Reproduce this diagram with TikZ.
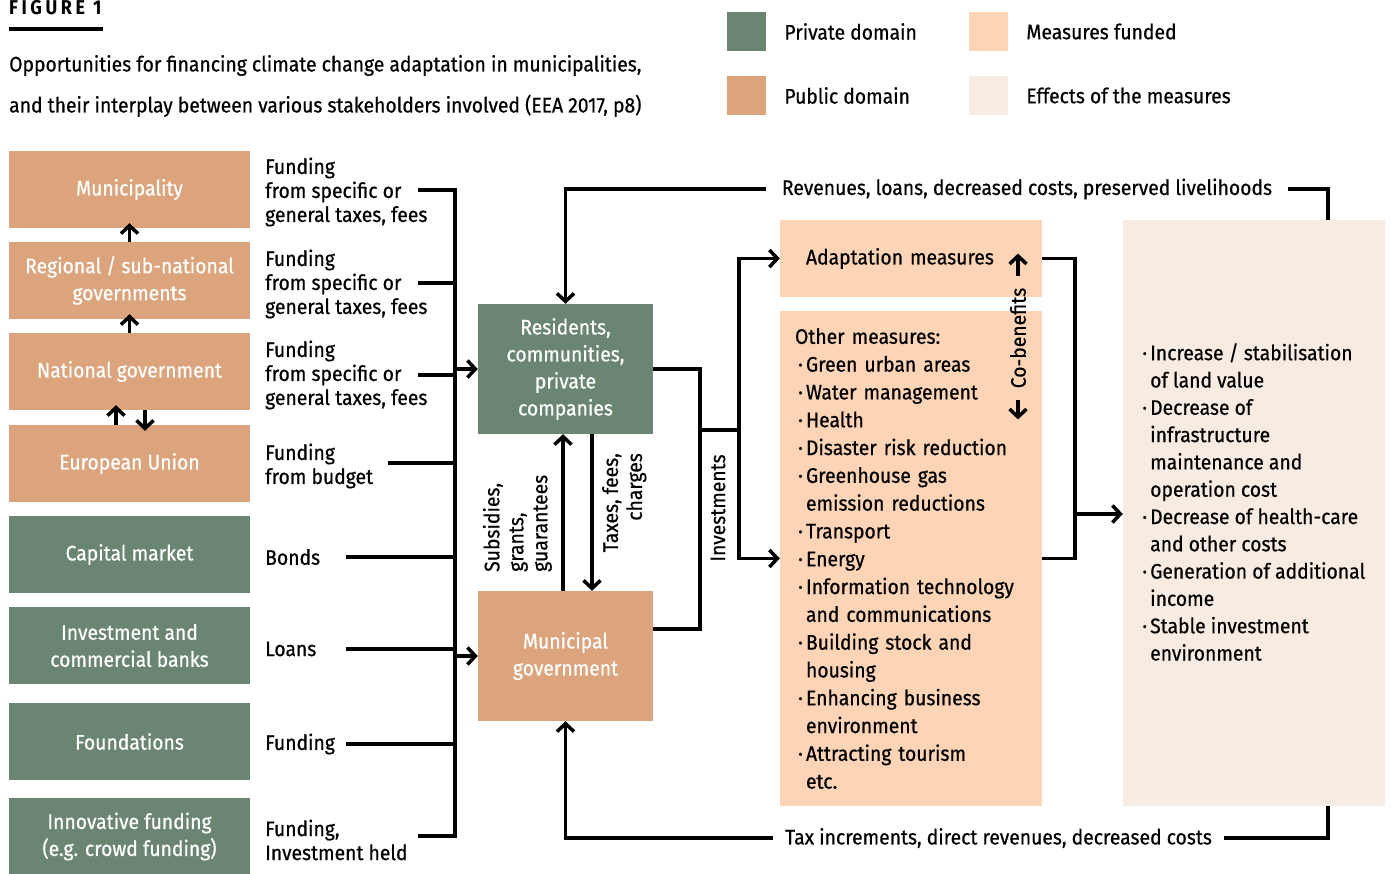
\documentclass[tikz,border=0pt]{standalone}
\usepackage{fontspec}
\setmainfont{Fira Sans}[FakeStretch=0.92,FakeBold=0.6]
\newfontfamily\headfont{Fira Sans}[FakeStretch=0.9,LetterSpace=18]
\usetikzlibrary{arrows.meta,positioning}
\definecolor{privgreen}{RGB}{107,133,115}
\definecolor{pubbrown}{RGB}{220,164,124}
\definecolor{measpeach}{RGB}{253,212,182}
\definecolor{effcream}{RGB}{248,236,226}
\newcommand{\bul}{\makebox[11pt][c]{·}}
\newcommand{\cont}{\hspace*{11pt}}
\begin{document}
\begin{tikzpicture}[x=1pt,y=-1pt,
		font=\fontsize{21}{24}\selectfont,
		box/.style={minimum width=241pt,minimum height=77pt,inner sep=0pt,align=center,text=white,font=\fontsize{21}{27}\selectfont},
		private/.style={box,fill=privgreen},
		public/.style={box,fill=pubbrown},
		hub/.style={box,minimum width=175pt,minimum height=130pt},
		measure/.style={minimum width=262pt,inner sep=0pt,fill=measpeach,align=left},
		key/.style={minimum width=39pt,minimum height=39pt,inner sep=0pt},
		lbl/.style={anchor=west,align=left,inner sep=0pt},
		link/.style={line width=3.5pt},
		arr/.style={link,-{Straight Barb[length=8pt,width=17pt]}},
	]
	\useasboundingbox (0,0) rectangle (1391,874);
	\node (fig) at (9,15) [anchor=base west,inner sep=0pt,font=\headfont\fontsize{20}{20}\bfseries\selectfont] {FIGURE 1};
	\fill (9,27.5) rectangle (103,31.5);
	\node (caption) at (9,86) [lbl,font=\fontsize{21}{41}\selectfont] {Opportunities for financing climate change adaptation in municipalities,\\and their interplay between various stakeholders involved (EEA 2017, p8)};
	
	\node (kpriv) at (746.5,31.5) [key,fill=privgreen] {};
	\node (kpub) at (746.5,95.5) [key,fill=pubbrown] {};
	\node (kmeas) at (988.5,31.5) [key,fill=measpeach] {};
	\node (keff) at (988.5,95.5) [key,fill=effcream] {};
	\node (tpriv) [lbl,right=18pt of kpriv] {Private domain};
	\node (tpub) [lbl,right=18pt of kpub] {Public domain};
	\node (tmeas) [lbl,right=18pt of kmeas] {Measures funded};
	\node (teff) [lbl,right=18pt of keff] {Effects of the measures};
	
	\node (muni) at (129.5,189.5) [public] {Municipality};
	\node (reg) at (129.5,280.5) [public] {Regional / sub-national\\governments};
	\node (nat) at (129.5,371.5) [public] {National government};
	\node (eu) at (129.5,463.5) [public] {European Union};
	\node (cap) at (129.5,554.5) [private] {Capital market};
	\node (bank) at (129.5,645.5) [private] {Investment and\\commercial banks};
	\node (found) at (129.5,741.5) [private] {Foundations};
	\node (crowd) at (129.5,836.5) [private] {Innovative funding\\(e.g. crowd funding)};
	
	\draw[arr] (reg.north) -- ([yshift=5pt]muni.south);
	\draw[arr] (nat.north) -- ([yshift=5pt]reg.south);
	\draw[arr] ([xshift=-13.5pt]eu.north) -- ([xshift=-13.5pt,yshift=5pt]nat.south);
	\draw[arr] ([xshift=15.5pt]nat.south) -- ([xshift=15.5pt,yshift=-6pt]eu.north);
	
	\node (f1) at (265,192) [lbl] {Funding\\from specific or\\general taxes, fees};
	\node (f2) at (265,284) [lbl] {Funding\\from specific or\\general taxes, fees};
	\node (f3) at (265,375) [lbl] {Funding\\from specific or\\general taxes, fees};
	\node (f4) at (265,466) [lbl] {Funding\\from budget};
	\node (f5) at (265,557) [lbl] {Bonds};
	\node (f6) at (265,649) [lbl] {Loans};
	\node (f7) at (265,744) [lbl] {Funding};
	\node (f8) at (265,840) [lbl] {Funding,\\Investment held};
	
	\coordinate (s1) at (418,190);
	\coordinate (s2) at (418,283);
	\coordinate (s3) at (418,375);
	\coordinate (s4) at (388,463);
	\coordinate (s5) at (346,557);
	\coordinate (s6) at (346,649);
	\coordinate (s7) at (346,744);
	\coordinate (s8) at (418,836);
	\coordinate (bus) at (455,0);
	\draw[link] (s1) -| (bus |- s8) -- (s8);
	\foreach \s in {s2,s3,s4,s5,s6,s7} \draw[link] (\s) -- (\s -| bus);
	
	\node (res) at (565.5,369) [hub,fill=privgreen] {Residents,\\communities,\\private\\companies};
	\node (mgov) at (565.5,656) [hub,fill=pubbrown] {Municipal\\government};
	\draw[arr] (bus |- res.west) -- (res.west);
	\draw[arr] (bus |- mgov.west) -- (mgov.west);
	\draw[arr] ([xshift=-2.5pt]mgov.north) -- ([xshift=-2.5pt]res.south);
	\draw[arr] ([xshift=26.5pt]res.south) -- ([xshift=26.5pt]mgov.north);
	\node (sub) at (552,572) [lbl,anchor=south west,rotate=90] {Subsidies,\\grants,\\guarantees};
	\node (taxes) at (602,453) [lbl,anchor=north east,align=right,rotate=90] {Taxes, fees,\\charges};
	\node (invest) at (718,508) [rotate=90,inner sep=0pt] {Investments};
	
	\node (adapt) at (911,258.5) [measure,minimum height=77pt,text width=210pt] {Adaptation measures};
	\node (other) at (911,558.5) [measure,minimum height=495pt,text width=232pt,font=\fontsize{21}{27.8}\selectfont] {Other measures:\\\bul Green urban areas\\\bul Water management\\\bul Health\\\bul Disaster risk reduction\\\bul Greenhouse gas\\\cont emission reductions\\\bul Transport\\\bul Energy\\\bul Information technology\\\cont and communications\\\bul Building stock and\\\cont housing\\\bul Enhancing business\\\cont environment\\\bul Attracting tourism\\\cont etc.};
	\node (cob) at (1018,338) [rotate=90,inner sep=0pt] {Co-benefits};
	\draw[arr] ([yshift=12pt]cob.east) -- ([yshift=34pt]cob.east);
	\draw[arr] ([yshift=-12pt]cob.west) -- ([yshift=-31pt]cob.west);
	
	\coordinate (bend) at (700,430);
	\coordinate (fork) at (739,430);
	\draw[link] (res.east) -| (bend) |- ([yshift=27pt]mgov.east);
	\draw[link] (bend) -- (fork);
	\draw[arr] (fork) |- (adapt.west);
	\draw[arr] (fork) |- (other.west);
	
	\node (eff) at (1254,513) [minimum width=262pt,minimum height=586pt,inner sep=0pt,fill=effcream] {};
	\node (efftxt) at (1139,502) [lbl,font=\fontsize{21}{27.3}\selectfont] {\bul Increase / stabilisation\\\cont of land value\\\bul Decrease of\\\cont infrastructure\\\cont maintenance and\\\cont operation cost\\\bul Decrease of health-care\\\cont and other costs\\\bul Generation of additional\\\cont income\\\bul Stable investment\\\cont environment};
	\coordinate (join) at (1075,514);
	\draw[link] (adapt.east) -| (join) |- (other.east);
	\draw[arr] (join) -- (eff.west |- join);
	
	\node (rev) at (1027,189) [inner xsep=16pt,inner ysep=0pt] {Revenues, loans, decreased costs, preserved livelihoods};
	\coordinate (effup) at (1328,220);
	\draw[link] (rev.east) -| (effup);
	\draw[arr] (rev.west) -| (res.north);
	\node (taxinc) at (998.5,838) [inner xsep=12pt,inner ysep=0pt] {Tax increments, direct revenues, decreased costs};
	\coordinate (effdown) at (1328,806);
	\draw[link] (taxinc.east) -| (effdown);
	\draw[arr] (taxinc.west) -| (mgov.south);
\end{tikzpicture}
\end{document}
